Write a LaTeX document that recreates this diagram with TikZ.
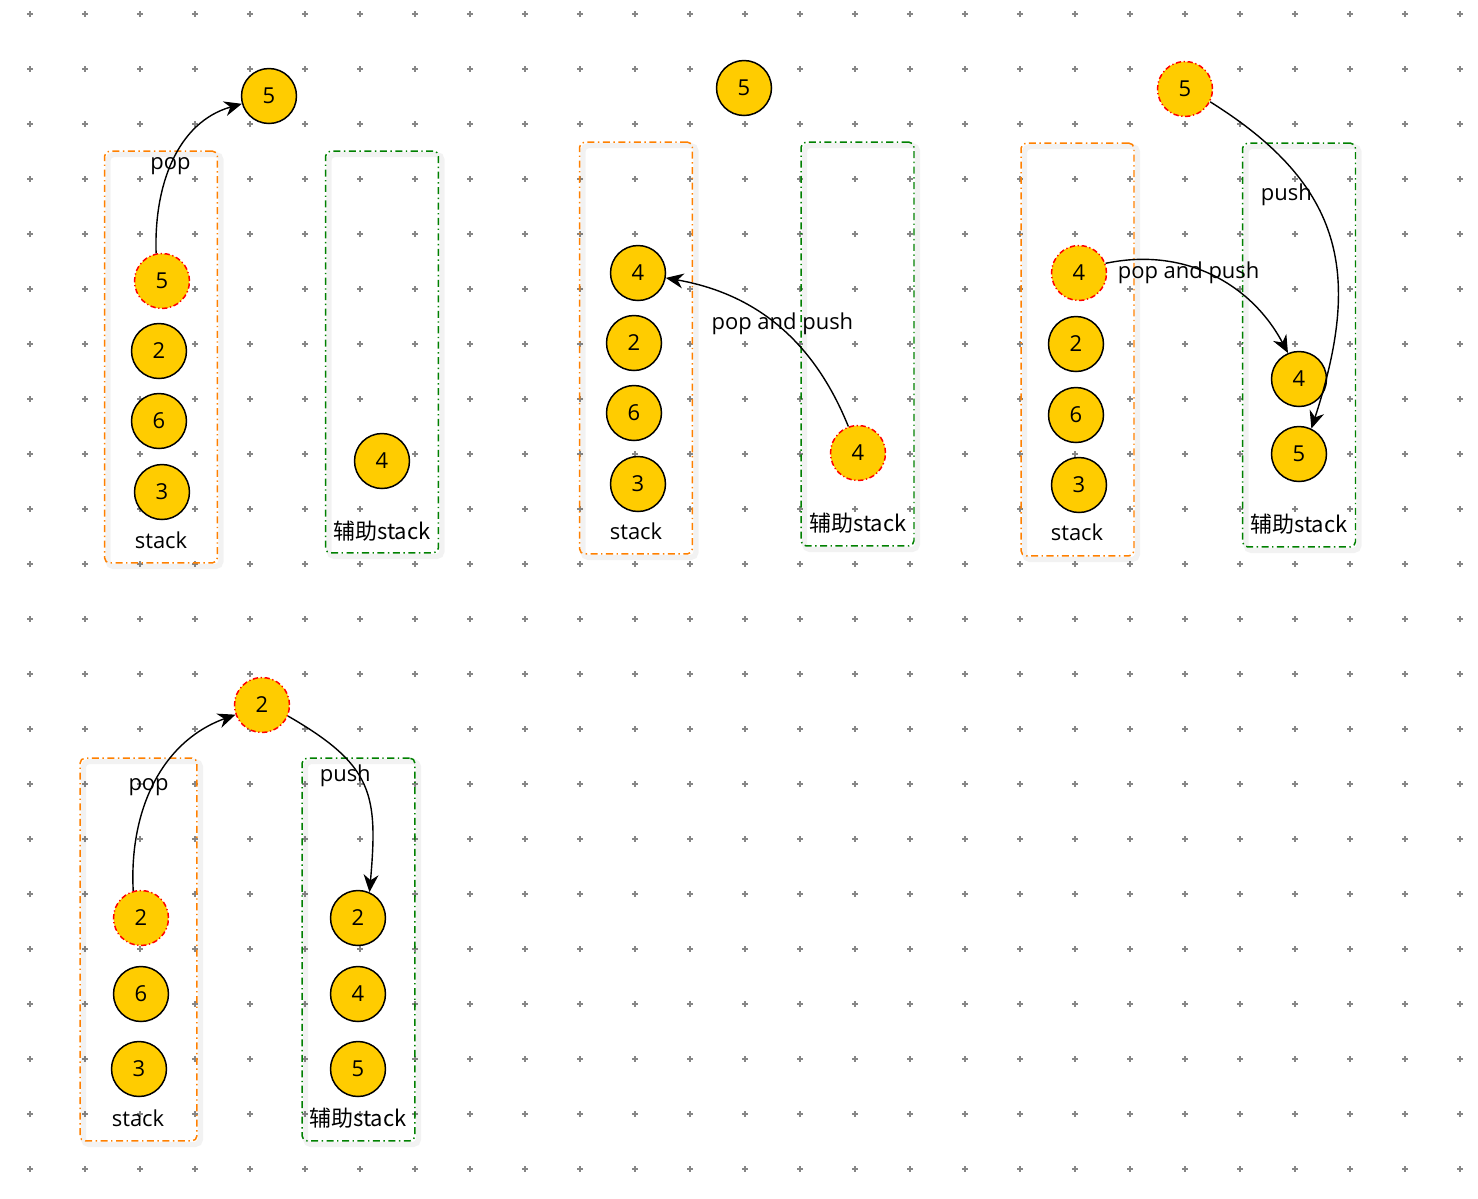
\documentclass[tikz,border=0pt]{standalone}
\usepackage{fontspec}
\setmainfont{Open Sans}
\newfontfamily\cjk{Noto Sans CJK SC}
\usetikzlibrary{arrows.meta,positioning}
\definecolor{ballfill}{RGB}{255,204,0}
\definecolor{oline}{RGB}{255,128,0}
\definecolor{gline}{RGB}{0,128,0}
\definecolor{gridgray}{RGB}{135,135,135}
\tikzset{
  >={Stealth[length=10pt,width=8.5pt,inset=3.2pt]},
  ball/.style ={circle, draw, line width=0.85pt, fill=ballfill, minimum size=1.1cm, inner sep=0pt},
  hot/.style  ={ball, draw=red, dash pattern=on 3pt off 1.5pt on 0.7pt off 1.5pt},
  stackbox/.style={draw=#1, line width=0.85pt, rounded corners=3pt,
    dash pattern=on 4pt off 2pt on 0.8pt off 2pt, minimum width=2.26cm,
    preaction={draw=black, opacity=0.05, line width=3pt, solid,
      transform canvas={shift={(2pt,-2pt)}}}},
  flow/.style ={->, line width=0.8pt},
}

\begin{document}
\begin{tikzpicture}[x=0.02cm, y=-0.02cm, every node/.style={font=\fontsize{12.5}{15}\selectfont}]
  \useasboundingbox (0,0) rectangle (1478,1198);
  % dot grid
  \foreach \i in {0,...,26}
    \foreach \j in {0,...,21}
      \draw[gridgray, line width=0.7pt] (30+55*\i-3,14+55*\j) -- ++(6,0)
        (30+55*\i,14+55*\j-3) -- ++(0,6);

  % step 1: pop 5
  \node[stackbox=oline, minimum height=8.24cm] (st1) at (161,357) {};
  \node[stackbox=gline, minimum height=8.04cm] (aux1) at (382,352) {};
  \node[ball] (top1) at (269,96) {5};
  \node[hot]  (a1) at (162,281) {5};
  \node[ball] (b1) at (159,351) {2};
  \node[ball] (c1) at (159,421) {6};
  \node[ball] (d1) at (162,492) {3};
  \node (sl1) at (161,540) {stack};
  \node[ball] (e1) at (382,461) {4};
  \node (al1) at (382,531) {\cjk 辅助stack};
  \draw[flow] (a1.102) to[out=92, in=196] node[pos=0.47, xshift=-0.5pt, yshift=-0.5pt] {pop} (top1);

  % step 2: move 4 back
  \node[stackbox=oline, minimum height=8.24cm] (st2) at (636,348) {};
  \node[stackbox=gline, minimum height=8.08cm] (aux2) at (857.5,344) {};
  \node[ball] (top2) at (744,88) {5};
  \node[ball] (a2) at (638,273) {4};
  \node[ball] (b2) at (634,343) {2};
  \node[ball] (c2) at (634,413) {6};
  \node[ball] (d2) at (638,484) {3};
  \node (sl2) at (636,531) {stack};
  \node[hot]  (e2) at (858,453) {4};
  \node (al2) at (858,523) {\cjk 辅助stack};
  \draw[flow] (e2.110) to[out=112, in=-10] node[pos=0.52, xshift=4.5pt] {pop and push} (a2);

  % step 3: push 4 then 5
  \node[stackbox=oline, minimum height=8.26cm] (st3) at (1077.5,349.5) {};
  \node[stackbox=gline, minimum height=8.08cm] (aux3) at (1299,345) {};
  \node[hot]  (top3) at (1185,89) {5};
  \node[hot]  (a3) at (1079,273) {4};
  \node[ball] (b3) at (1076,344) {2};
  \node[ball] (c3) at (1076,415) {6};
  \node[ball] (d3) at (1079,485) {3};
  \node (sl3) at (1077,532) {stack};
  \node[ball] (e3) at (1299,379) {4};
  \node[ball] (f3) at (1299,454) {5};
  \node (al3) at (1299,524) {\cjk 辅助stack};
  \draw[flow] (a3.20) to[out=12, in=118] node[pos=0.38, yshift=-4pt] {pop and push} (e3.113);
  \draw[flow] (top3.-27) to[out=-32, in=72, looseness=1.2] node[pos=0.35, xshift=-14pt] {push} (f3.64);

  % step 4: pop 2, push 2
  \node[stackbox=oline, minimum width=2.34cm, minimum height=7.66cm] (st4) at (138.5,949.5) {};
  \node[stackbox=gline, minimum height=7.66cm] (aux4) at (358.5,949.5) {};
  \node[hot]  (top4) at (262,705) {2};
  \node[hot]  (a4) at (141,918) {2};
  \node[ball] (b4) at (141,994) {6};
  \node[ball] (c4) at (139,1069) {3};
  \node (sl4) at (138,1118) {stack};
  \node[ball] (e4) at (358,918) {2};
  \node[ball] (f4) at (358,994) {4};
  \node[ball] (g4) at (358,1069) {5};
  \node (al4) at (358,1118) {\cjk 辅助stack};
  \draw[flow] (a4.106) to[out=93, in=200] node[pos=0.5, xshift=-3.5pt, yshift=-2pt] {pop} (top4);
  \draw[flow] (top4.-23) to[out=-30, in=85, looseness=1.3] node[pos=0.38, xshift=-5pt, yshift=-4.5pt] {push} (e4.66);
\end{tikzpicture}
\end{document}
